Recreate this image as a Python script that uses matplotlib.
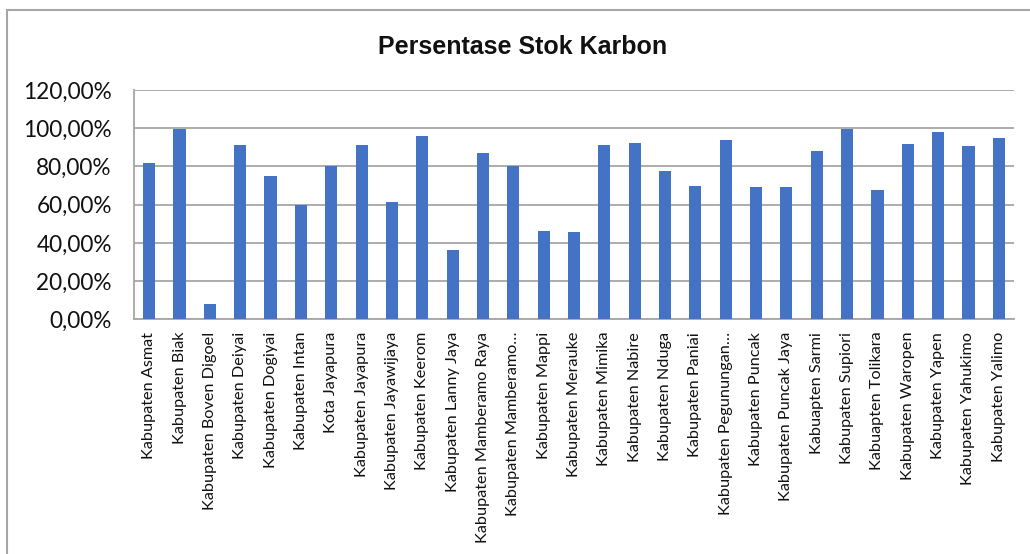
import matplotlib
matplotlib.use("Agg")
import matplotlib.pyplot as plt
from matplotlib.patches import Rectangle
from matplotlib.ticker import FuncFormatter, MultipleLocator

categories = [
    "Kabupaten Asmat", "Kabupaten Biak", "Kabupaten Boven Digoel", "Kabupaten Deiyai",
    "Kabupaten Dogiyai", "Kabupaten Intan", "Kota Jayapura", "Kabupaten Jayapura",
    "Kabupaten Jayawijaya", "Kabupaten Keerom", "Kabupaten Lanny Jaya",
    "Kabupaten Mamberamo Raya", "Kabupaten Mamberamo…", "Kabupaten Mappi",
    "Kabupaten Merauke", "Kabupaten Mimika", "Kabupaten Nabire", "Kabupaten Nduga",
    "Kabupaten Paniai", "Kabupaten Pegunungan…", "Kabupaten Puncak",
    "Kabupaten Puncak Jaya", "Kabuapten Sarmi", "Kabupaten Supiori",
    "Kabuapten Tolikara", "Kabupaten Waropen", "Kabupaten Yapen",
    "Kabupaten Yahukimo", "Kabupaten Yalimo",
]
values = [
    81.6, 99.6, 8.0, 91.0, 74.8, 60.0, 80.2, 91.0, 61.4, 96.1, 36.3,
    87.2, 80.2, 46.4, 45.7, 91.0, 92.4, 77.6, 69.8, 93.7, 69.1,
    69.1, 87.9, 99.4, 67.7, 91.7, 98.2, 90.8, 94.7,
]
title = "Persentase Stok Karbon"

fig = plt.figure(figsize=(10.30, 5.54), dpi=100)
ax = fig.add_axes([134 / 1030, 1 - 319.3 / 554, (1014 - 134) / 1030, (319.3 - 90) / 554])

x = list(range(len(categories)))
ax.bar(x, values, width=0.4, color="#4472C4", zorder=3)

ax.set_xlim(-0.5, len(categories) - 0.5)
ax.set_ylim(0, 120)
ax.yaxis.set_major_locator(MultipleLocator(20))
ax.yaxis.set_major_formatter(FuncFormatter(lambda v, p: f"{v:.2f}".replace(".", ",") + "%"))
ax.grid(axis="y", color="#a6a6a6", linewidth=1.3, zorder=0)
ax.set_xticks(x)
ax.set_xticklabels(categories, rotation=90, family="Lato", fontsize=11.7, color="#111111")
for lbl in ax.get_yticklabels():
    lbl.set_family("Lato")
    lbl.set_fontsize(16.3)
    lbl.set_color("#111111")
ax.tick_params(axis="both", length=0)
ax.tick_params(axis="x", pad=9)
ax.tick_params(axis="y", pad=16)

for s in ["top", "right"]:
    ax.spines[s].set_visible(False)
ax.spines["left"].set_color("#a6a6a6")
ax.spines["left"].set_linewidth(1.3)
ax.spines["bottom"].set_color("#a6a6a6")
ax.spines["bottom"].set_linewidth(1.3)

fig.text(523 / 1030, 1 - 47 / 554, title, ha="center", va="center",
         family="Liberation Sans", weight="bold", fontsize=18, color="#111111")

fig.patches.append(Rectangle((7 / 1030, -0.1), 1.2, 1 - 10 / 554 + 0.1,
                             transform=fig.transFigure, fill=False,
                             edgecolor="#a6a6a6", linewidth=1.5))

fig.savefig("out.png", dpi=100)
